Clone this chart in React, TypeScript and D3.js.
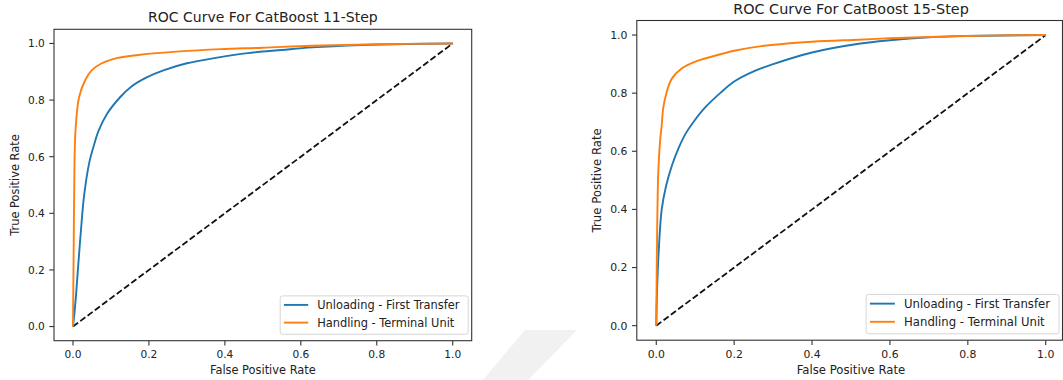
import React from 'react';
import * as d3 from 'd3';

// ROC points (FPR, TPR)
const step11UnloadingFpr = [0, 0.004, 0.008, 0.014, 0.021, 0.029, 0.043, 0.054, 0.067, 0.089, 0.124, 0.154, 0.194, 0.238, 0.3, 0.38, 0.46, 0.55, 0.63, 0.76, 0.88, 1];
const step11UnloadingTpr = [0, 0.05, 0.11, 0.22, 0.34, 0.46, 0.58, 0.635, 0.69, 0.75, 0.81, 0.848, 0.88, 0.905, 0.93, 0.95, 0.966, 0.977, 0.986, 0.994, 0.998, 1];
const step11HandlingFpr = [0, 0.002, 0.004, 0.007, 0.016, 0.032, 0.049, 0.076, 0.115, 0.176, 0.28, 0.39, 0.5, 0.63, 0.8, 1];
const step11HandlingTpr = [0, 0.3, 0.58, 0.70, 0.81, 0.87, 0.905, 0.93, 0.948, 0.96, 0.972, 0.98, 0.985, 0.992, 0.997, 1];

const step15UnloadingFpr = [0, 0.002, 0.006, 0.014, 0.025, 0.04, 0.057, 0.075, 0.095, 0.125, 0.164, 0.2, 0.25, 0.3, 0.4, 0.52, 0.6, 0.7, 0.8, 1];
const step15UnloadingTpr = [0, 0.12, 0.25, 0.4, 0.48, 0.55, 0.61, 0.66, 0.70, 0.75, 0.8, 0.84, 0.875, 0.9, 0.94, 0.97, 0.982, 0.992, 0.997, 1];
const step15HandlingFpr = [0, 0.002, 0.005, 0.0095, 0.014, 0.018, 0.027, 0.04, 0.065, 0.099, 0.146, 0.2, 0.27, 0.4, 0.52, 0.6, 0.7, 0.85, 1];
const step15HandlingTpr = [0, 0.3, 0.52, 0.63, 0.69, 0.75, 0.805, 0.85, 0.885, 0.908, 0.927, 0.946, 0.962, 0.977, 0.984, 0.989, 0.993, 0.998, 1];

const chanceLine = [0, 1];
const tickValues = [0, 0.2, 0.4, 0.6, 0.8, 1.0];
const seriesNames = ['Unloading - First Transfer', 'Handling - Terminal Unit'];
const seriesColors = ['#1f77b4', '#ff7f0e'];
const titles = ['ROC Curve For CatBoost 11-Step', 'ROC Curve For CatBoost 15-Step'];

const FONT = '"DejaVu Sans", Verdana, sans-serif';
const INK = '#222';

const zip = (xs: number[], ys: number[]) => xs.map((x, i) => [x, ys[i]] as [number, number]);

const panels = [
  {
    title: titles[0],
    left: 54, right: 471.7, top: 29.3, bottom: 340.7,
    series: [zip(step11UnloadingFpr, step11UnloadingTpr), zip(step11HandlingFpr, step11HandlingTpr)],
    s: 1,
  },
  {
    title: titles[1],
    left: 636.8, right: 1065.2, top: 20.5, bottom: 340.2,
    series: [zip(step15UnloadingFpr, step15UnloadingTpr), zip(step15HandlingFpr, step15HandlingTpr)],
    s: 1.026,
  },
];

function RocPanel({ p }: { p: typeof panels[number] }) {
  const x = d3.scaleLinear().domain([-0.05, 1.05]).range([p.left, p.right]);
  const y = d3.scaleLinear().domain([-0.05, 1.05]).range([p.bottom, p.top]);
  const line = d3.line<[number, number]>()
    .x(d => x(d[0]))
    .y(d => y(d[1]))
    .curve(d3.curveCatmullRom.alpha(0.5));
  const s = p.s;
  const tickLen = 4.7 * s;
  const tickFont = 10.6 * s;
  const labelFont = 11.4 * s;
  const frameRight = Math.min(p.right, 1062.5);

  // legend, lower right
  const legW = 188 * s;
  const legH = 38.4 * s;
  const legX = frameRight - 3.5 - legW;
  const legY = p.bottom - 6.4 - legH;

  return (
    <g>
      <text x={(p.left + p.right) / 2} y={p.top - 7} textAnchor="middle"
        fontFamily={FONT} fontSize={14 * s} fill={INK}>{p.title}</text>

      <path d={line(zip(chanceLine, chanceLine)) || ''} fill="none" stroke="#111"
        strokeWidth={1.8} strokeDasharray="6.3,2.8" />
      {p.series.map((pts, i) => (
        <path key={i} d={line(pts) || ''} fill="none" stroke={seriesColors[i]}
          strokeWidth={1.9} strokeLinejoin="round" />
      ))}

      <rect x={p.left} y={p.top} width={frameRight - p.left} height={p.bottom - p.top}
        fill="none" stroke="#333" strokeWidth={1.1} />

      {tickValues.map(t => (
        <g key={'x' + t}>
          <line x1={x(t)} x2={x(t)} y1={p.bottom} y2={p.bottom + tickLen} stroke="#333" strokeWidth={1.1} />
          <text x={x(t)} y={p.bottom + 17.5} textAnchor="middle" fontFamily={FONT}
            fontSize={tickFont} fill={INK}>{t.toFixed(1)}</text>
        </g>
      ))}
      {tickValues.map(t => (
        <g key={'y' + t}>
          <line x1={p.left - tickLen} x2={p.left} y1={y(t)} y2={y(t)} stroke="#333" strokeWidth={1.1} />
          <text x={p.left - tickLen - 4.5} y={y(t)} dy="0.36em" textAnchor="end" fontFamily={FONT}
            fontSize={tickFont} fill={INK}>{t.toFixed(1)}</text>
        </g>
      ))}

      <text x={(p.left + p.right) / 2} y={p.bottom + 33.5} textAnchor="middle"
        fontFamily={FONT} fontSize={labelFont} fill={INK}>False Positive Rate</text>
      <text transform={`translate(${p.left - 39 * s},${(p.top + p.bottom) / 2}) rotate(-90)`}
        dy="0.36em" textAnchor="middle" fontFamily={FONT} fontSize={labelFont} fill={INK}>True Positive Rate</text>

      <rect x={legX} y={legY} width={legW} height={legH} rx={2.5} fill="#fff" fillOpacity={0.8}
        stroke="#d6d6d6" strokeWidth={1} />
      {seriesNames.map((name, i) => {
        const cy = legY + (9 + i * 17.7) * s;
        return (
          <g key={name}>
            <line x1={legX + 3.7 * s} x2={legX + 28 * s} y1={cy} y2={cy} stroke={seriesColors[i]} strokeWidth={1.9} />
            <text x={legX + 37 * s} y={cy} dy="0.36em" fontFamily={FONT} fontSize={labelFont} fill={INK}>{name}</text>
          </g>
        );
      })}
    </g>
  );
}

export default function App() {
  return (
    <svg width={1063} height={380} viewBox="0 0 1063 380"
      style={{ position: 'absolute', left: 0, top: 0, background: '#fff' }}>
      <rect width={1063} height={380} fill="#fff" />
      <polygon points="525,330 577,330 528,380 483,380" fill="#f1f1f1" />
      {panels.map(p => <RocPanel key={p.title} p={p} />)}
    </svg>
  );
}
